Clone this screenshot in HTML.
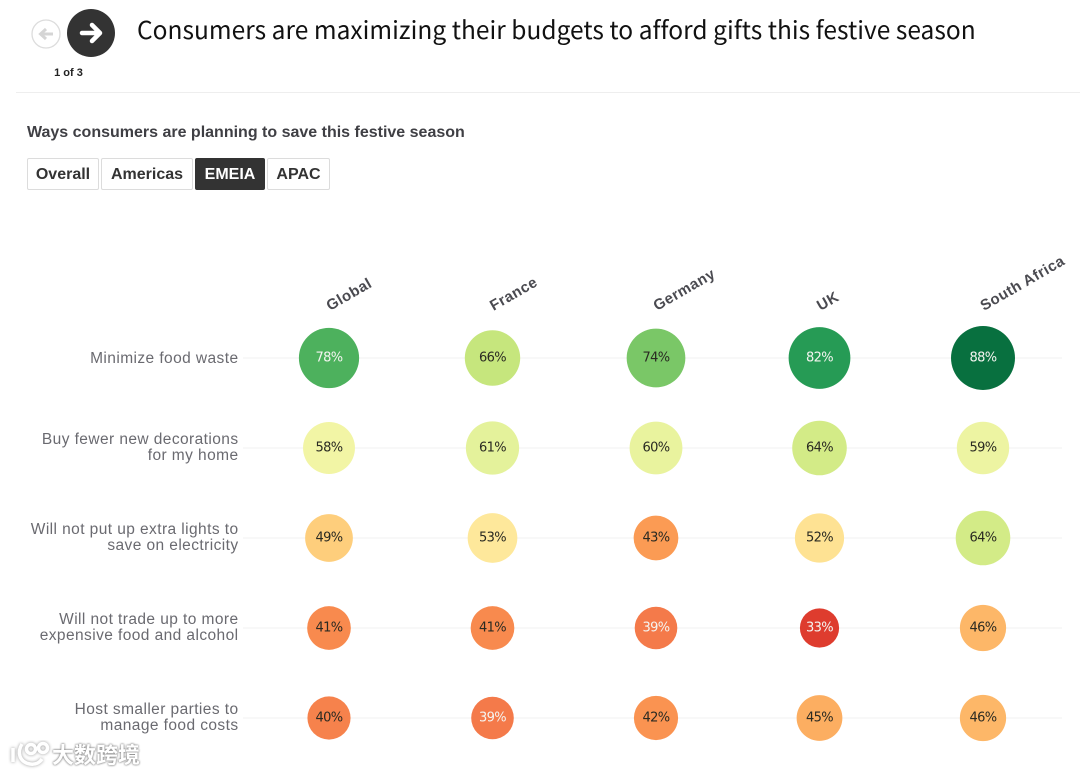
<!DOCTYPE html>
<html lang="en">
<head>
<meta charset="utf-8">
<title>Consumers are maximizing their budgets</title>
<style>
html,body{margin:0;padding:0;background:#fff;}
#page{position:relative;width:1080px;height:776px;overflow:hidden;background:#fff;font-family:"Liberation Sans",sans-serif;}
#page>*{position:absolute;}
.tab{box-sizing:border-box;top:158px;height:32px;border:1px solid #dcdcdc;border-radius:2px;background:#fff;color:#333;font-weight:bold;font-size:16px;line-height:32px;text-align:center;}
.tab.on{background:#333;border-color:#333;color:#fff;}
</style>
</head>
<body>
<div id="page">
  <svg style="left:0;top:0" width="130" height="70">
    <g>
      <circle cx="46" cy="34" r="14" fill="#fff" stroke="#dcdcdc" stroke-width="1.3"/>
      <path d="M53 34H41M46 29l-5.500 5 5.500 5" fill="none" stroke="#d5d5d5" stroke-width="3"/>
    </g>
    <g>
      <circle cx="91" cy="33" r="24" fill="#333"/>
      <path d="M82 33H99M92 25l8 8-8 8" fill="none" stroke="#fff" stroke-width="4.500" stroke-linecap="round" stroke-linejoin="round"/>
    </g>
  </svg>
  <div style="left:40px;top:66px;width:57px;text-align:center;font-size:11px;font-weight:bold;color:#222;line-height:14px">1 of 3</div>
  <div style="left:137px;top:11px;white-space:nowrap;font-family:'Noto Sans CJK SC','Liberation Sans',sans-serif;font-size:24.5px;line-height:38px;color:#111;letter-spacing:.03px">Consumers are maximizing their budgets to afford gifts this festive season</div>
  <div style="left:16px;top:92px;width:1064px;height:1px;background:#eeeeee"></div>
  <div style="left:27px;top:124px;white-space:nowrap;font-size:16px;font-weight:bold;line-height:18px;color:#3f3f44">Ways consumers are planning to save this festive season</div>
  <div class="tab" style="left:27px;width:72px">Overall</div>
  <div class="tab" style="left:101px;width:92px">Americas</div>
  <div class="tab on" style="left:195px;width:70px">EMEIA</div>
  <div class="tab" style="left:267px;width:63px">APAC</div>

  <svg id="bubble-chart" style="left:0;top:0" width="1080" height="776"></svg>

  <svg style="left:8px;top:740px" width="46" height="32">
    <g fill="none" stroke="#fff" stroke-width="3.500" style="filter:drop-shadow(0 0 1.500px #999)">
      <path d="M5 8v14M14 4c-5 8-3 18 8 20 6 1 10-2 12-5"/>
      <circle cx="23" cy="9" r="4.500"/><circle cx="35" cy="8" r="4.500"/>
    </g>
  </svg>
  <div style="left:52px;top:742px;white-space:nowrap;font-family:'Liberation Sans','Noto Sans CJK SC',sans-serif;font-size:22px;font-weight:bold;line-height:28px;color:#fff;text-shadow:0 0 2px #888,0 0 2px #888">大数跨境</div>
</div>

<script>
const countries = ["Global", "France", "Germany", "UK", "South Africa"];
const measures = [
  ["Minimize food waste"],
  ["Buy fewer new decorations", "for my home"],
  ["Will not put up extra lights to", "save on electricity"],
  ["Will not trade up to more", "expensive food and alcohol"],
  ["Host smaller parties to", "manage food costs"]
];
const foodWaste = [78, 66, 74, 82, 88];
const decorations = [58, 61, 60, 64, 59];
const lights = [49, 53, 43, 52, 64];
const tradeUp = [41, 41, 39, 33, 46];
const smallerParties = [40, 39, 42, 45, 46];
const seriesRows = [foodWaste, decorations, lights, tradeUp, smallerParties];

const NS = "http://www.w3.org/2000/svg";
const svg = document.getElementById("bubble-chart");

function xAxis(i) { return 329 + i * 163.5; }
function yAxis(i) { return 358 + i * 90; }
function radius(v) { return 3.41 * Math.sqrt(v); }

const colorStops = [
  [33, 222, 60, 46], [39, 244, 122, 74], [41, 248, 138, 78], [43, 251, 155, 84],
  [46, 253, 183, 104], [49, 254, 206, 124], [53, 254, 232, 155], [58, 242, 245, 165],
  [61, 228, 242, 155], [64, 211, 235, 135], [66, 198, 230, 125], [74, 122, 199, 103],
  [78, 77, 177, 93], [82, 38, 155, 85], [88, 8, 112, 63]
];
function color(v) {
  if (v <= colorStops[0][0]) return "rgb(222,60,46)";
  for (let i = 1; i < colorStops.length; i++) {
    const a = colorStops[i - 1], b = colorStops[i];
    if (v <= b[0]) {
      const t = (v - a[0]) / (b[0] - a[0]);
      return "rgb(" + [1, 2, 3].map(function (k) { return Math.round(a[k] + (b[k] - a[k]) * t); }).join(",") + ")";
    }
  }
  return "rgb(8,112,63)";
}
function make(tag, attrs, parent) {
  const el = document.createElementNS(NS, tag);
  Object.keys(attrs).forEach(function (k) { el.setAttribute(k, attrs[k]); });
  parent.appendChild(el);
  return el;
}

countries.forEach(function (name, c) {
  const x = xAxis(c) + 1;
  const t = make("text", {
    x: x, y: 311,
    transform: "rotate(-30 " + x + " 311)",
    "font-family": '"Liberation Sans",sans-serif',
    "font-size": 15, "font-weight": "bold", fill: "#4a4a50", "letter-spacing": ".5"
  }, svg);
  
  
  t.textContent = name;
});

seriesRows.forEach(function (row, r) {
  const y = yAxis(r);
  const line = make("line", { x1: 243, x2: 1062, y1: y, y2: y, stroke: "#f1f1f1", "stroke-width": 1 }, svg);
  
  

  const lines = measures[r];
  lines.forEach(function (txt, i) {
    const offset = lines.length === 1 ? 5 : (i === 0 ? -4 : 12);
    const label = make("text", {
      x: 238.5, y: y + offset, "text-anchor": "end",
      "font-family": '"Liberation Sans",sans-serif',
      "font-size": 15.5, fill: "#6a6a70", "letter-spacing": ".42"
    }, svg);
    
    
    label.textContent = txt;
  });

  row.forEach(function (v, c) {
    const x = xAxis(c);
    const bubble = make("circle", { cx: x, cy: y, r: radius(v), fill: color(v) }, svg);
    
    
    const value = make("text", {
      x: x, y: y + 3.5, "text-anchor": "middle",
      "font-family": '"DejaVu Sans",sans-serif',
      "font-size": 13,
      fill: (v >= 78 || v <= 39) ? "#f4f4f0" : "#2a2a22",
      "letter-spacing": "-.6"
    }, svg);
    
    
    value.textContent = v + "%";
  });
});
</script>
</body>
</html>
